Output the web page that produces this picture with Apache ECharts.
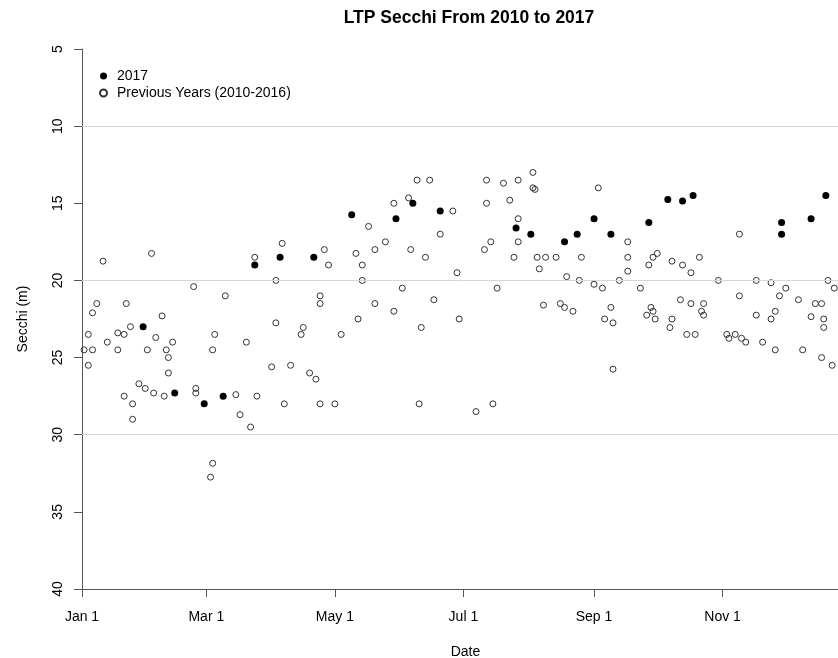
<!DOCTYPE html>
<html>
<head>
<meta charset="utf-8">
<script src="https://cdn.jsdelivr.net/npm/echarts@6/dist/echarts.min.js"></script>
<style>
  html, body { margin: 0; padding: 0; background: #fff; }
  #chart { width: 838px; height: 658px; }
</style>
</head>
<body>
<div id="chart"></div>
<script>
// Day of year (0 = Jan 1) and Secchi depth (m)
const recentDay = [29, 44, 58, 67, 82, 94, 110, 128, 149, 157, 170, 206, 213, 229, 235, 243, 251, 269, 278, 285, 290, 332, 332, 346, 353];
const recentSecchi = [23.0, 27.3, 28.0, 27.5, 19.0, 18.5, 18.5, 15.75, 16.0, 15.0, 15.5, 16.6, 17.0, 17.5, 17.0, 16.0, 17.0, 16.25, 14.75, 14.85, 14.5, 16.25, 17.0, 16.0, 14.5];

const prevDay = [
  10, 33, 82, 92, 92, 53, 68, 7, 21, 5, 38, 23, 3, 17, 20, 35, 12, 43, 63, 78,
  1, 5, 17, 31, 40, 62, 3, 41, 41, 90, 27, 30, 34, 39, 54, 54, 73, 83, 20, 24,
  24, 75, 80, 62, 61,
  95, 115, 117, 136, 130, 133, 133, 139, 144, 148, 156, 155, 159, 165, 163, 176, 170, 178, 192, 192,
  191, 152, 113, 113, 139, 148, 167, 131, 105, 104, 123, 161, 179, 99, 108, 111, 96, 113, 120, 160,
  187,
  194, 197, 195, 200, 207, 203, 207, 207, 205, 214, 214, 215, 216, 217, 220, 225, 219, 227, 229, 233,
  230, 237, 236, 245, 243, 247, 251, 248, 252, 252, 255, 259, 259, 259, 265, 269, 271, 273, 270, 271,
  268, 272,
  280, 285, 289, 293, 280, 279, 284, 289, 295, 294, 295, 287, 291, 302, 312, 312, 306, 307, 310, 313,
  315, 320, 320, 323, 327, 327, 329, 329, 331, 334, 340, 342, 346, 348, 351, 352, 352, 351, 354, 357,
  356
];
const prevSecchi = [
  18.75, 18.25, 18.5, 20.0, 22.75, 20.4, 21.0, 21.5, 21.5, 22.1, 22.3, 23.0, 23.5, 23.4, 23.5, 23.7, 24.0, 24.0, 23.5, 24.0,
  24.5, 24.5, 24.5, 24.5, 24.5, 24.5, 25.5, 25.0, 26.0, 25.6, 26.7, 27.0, 27.3, 27.5, 27.0, 27.3, 27.4, 27.5, 27.5, 28.0,
  29.0, 28.7, 29.5, 31.85, 32.75,
  17.6, 18.0, 19.0, 16.5, 18.25, 19.0, 20.0, 18.0, 17.5, 15.0, 18.0, 14.65, 13.5, 13.5, 18.5, 15.5, 17.0, 19.5, 13.5, 15.0,
  18.0, 20.5, 21.0, 21.5, 21.5, 22.0, 21.25, 22.5, 23.05, 23.5, 23.5, 23.05, 22.5, 25.5, 26.0, 26.4, 28.0, 28.0, 28.0, 28.0,
  28.5,
  17.5, 20.5, 28.0, 13.7, 13.5, 14.8, 16.0, 17.5, 18.5, 13.0, 14.0, 14.1, 18.5, 19.25, 18.5, 18.5, 21.6, 21.5, 21.75, 22.0,
  19.75, 18.5, 20.0, 14.0, 20.25, 20.5, 21.75, 22.5, 22.75, 25.75, 20.0, 17.5, 18.5, 19.4, 20.5, 19.0, 18.5, 18.25, 21.75, 22.0,
  22.25, 22.5,
  18.75, 19.0, 19.5, 18.5, 22.5, 23.05, 21.25, 21.5, 21.5, 22.0, 22.25, 23.5, 23.5, 20.0, 17.0, 21.0, 23.5, 23.75, 23.5, 23.75,
  24.0, 20.0, 22.25, 24.0, 20.15, 22.5, 22.0, 24.5, 21.0, 20.5, 21.25, 24.5, 22.35, 21.5, 21.5, 22.5, 23.05, 25.0, 20.0, 20.5,
  25.5
];

const tickDays = [0, 59, 120, 181, 243, 304];
const tickLabels = ['Jan 1', 'Mar 1', 'May 1', 'Jul 1', 'Sep 1', 'Nov 1'];
const gridValues = [10, 20, 30];

const FONT = "'Liberation Sans', Arial, sans-serif";

const pairs = (xs, ys) => xs.map((x, i) => [x, ys[i]]);

const chart = echarts.init(document.getElementById('chart'), null, { renderer: 'canvas' });

chart.setOption({
  animation: false,
  backgroundColor: '#ffffff',
  textStyle: { fontFamily: FONT, color: '#000' },
  title: {
    text: 'LTP Secchi From 2010 to 2017',
    left: 464,
    top: 4,
    textAlign: 'center',
    textStyle: { fontFamily: FONT, fontSize: 17.5, fontWeight: 'bold', color: '#000' }
  },
  legend: {
    orient: 'vertical',
    left: 99,
    top: 69,
    itemWidth: 7,
    itemHeight: 7,
    itemGap: 3,
    padding: 0,
    textStyle: { fontFamily: FONT, fontSize: 14, color: '#000', padding: [0, 0, 0, 5] },
    data: ['2017', 'Previous Years (2010-2016)']
  },
  grid: { left: 82, right: -11, top: 49, bottom: 69, containLabel: false, outerBoundsMode: 'none' },
  xAxis: {
    type: 'value',
    min: 0,
    max: 364,
    name: 'Date',
    nameLocation: 'middle',
    nameGap: 56,
    nameTextStyle: { fontFamily: FONT, fontSize: 14, color: '#000' },
    axisLine: { show: true, onZero: false, lineStyle: { color: '#555', width: 1 } },
    axisTick: { show: true, length: 8, customValues: tickDays, lineStyle: { color: '#555' } },
    axisLabel: {
      customValues: tickDays,
      margin: 21,
      fontFamily: FONT,
      fontSize: 14,
      color: '#000',
      formatter: v => tickLabels[tickDays.indexOf(Math.round(v))] || ''
    },
    splitLine: { show: false }
  },
  yAxis: {
    type: 'value',
    inverse: true,
    min: 5,
    max: 40,
    interval: 5,
    name: 'Secchi (m)',
    nameLocation: 'middle',
    nameGap: 52,
    nameRotate: 90,
    nameTextStyle: { fontFamily: FONT, fontSize: 14, color: '#000' },
    axisLine: { show: true, onZero: false, lineStyle: { color: '#555', width: 1 } },
    axisTick: { show: true, length: 8, lineStyle: { color: '#555' } },
    axisLabel: { rotate: 90, margin: 17, fontFamily: FONT, fontSize: 14, color: '#000' },
    splitLine: { show: false }
  },
  series: [
    {
      // horizontal reference lines
      type: 'line',
      data: [],
      z: 1,
      silent: true,
      markLine: {
        silent: true,
        symbol: 'none',
        label: { show: false },
        lineStyle: { color: '#d6d6d6', width: 1, type: 'solid' },
        data: gridValues.map(v => ({ yAxis: v }))
      }
    },
    {
      name: 'Previous Years (2010-2016)',
      type: 'scatter',
      z: 3,
      symbol: 'circle',
      symbolSize: 6,
      itemStyle: { color: 'rgba(255,255,255,0)', borderColor: '#333', borderWidth: 1, opacity: 1 },
      data: pairs(prevDay, prevSecchi)
    },
    {
      name: '2017',
      type: 'scatter',
      z: 4,
      symbol: 'circle',
      symbolSize: 7,
      itemStyle: { color: '#000', borderColor: '#000', borderWidth: 0, opacity: 1 },
      data: pairs(recentDay, recentSecchi)
    }
  ]
});
</script>
</body>
</html>
